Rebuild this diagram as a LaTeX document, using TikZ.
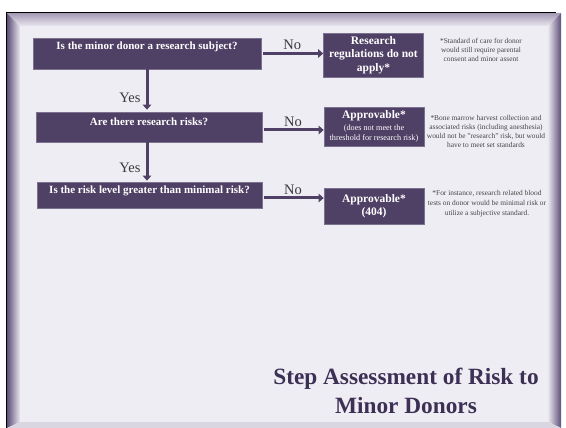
\documentclass[tikz,border=0pt]{standalone}
\usepackage{fontspec}
\setmainfont{Liberation Serif}
\usetikzlibrary{arrows.meta}
\definecolor{boxpurple}{HTML}{4F4065}
\definecolor{boxedge}{HTML}{7D7190}
\definecolor{panel}{HTML}{EFEDF4}
\definecolor{titlepurple}{HTML}{3D3055}
\definecolor{bevdark}{HTML}{5E4F78}
\definecolor{bevtop}{HTML}{A49AB5}
\definecolor{bevlight}{HTML}{E9E6EF}
\definecolor{bevbot}{HTML}{D9D5E1}
\definecolor{notegray}{HTML}{444444}
\definecolor{lblgray}{HTML}{3A3A3A}
\newcommand{\subnote}{\mdseries\fontsize{8.2}{10}\selectfont}
\begin{document}
\begin{tikzpicture}[x=1pt,y=-1pt,
  qbox/.style={fill=boxpurple, draw=boxedge, line width=0.7pt, inner sep=0pt},
  qtext/.style={text=white, inner sep=0pt, align=center,
    font=\bfseries\fontsize{11}{13}\selectfont},
  abox/.style={fill=boxpurple, draw=boxedge, line width=0.7pt, text=white,
    inner sep=0pt, align=center, font=\bfseries\fontsize{11.5}{13.5}\selectfont},
  note/.style={text=notegray, align=center, inner sep=0pt,
    font=\fontsize{7.4}{9}\selectfont},
  flow/.style={draw=boxpurple, line width=3pt,
    -{Triangle[length=5pt,width=8.5pt]}},
  lbl/.style={text=lblgray, inner sep=1pt, font=\fontsize{14.5}{16}\selectfont}]
\useasboundingbox (0,0) rectangle (566,428);
\fill[white] (0,0) rectangle (566,428);

% bevelled slide frame
\shade[left color=bevdark, right color=bevlight] (7,13) -- (20,26) -- (20,422) -- (7,428) -- cycle;
\shade[top color=bevtop, bottom color=bevlight] (7,13) -- (561,13) -- (548,26) -- (20,26) -- cycle;
\shade[left color=bevlight, right color=bevdark] (548,26) -- (561,13) -- (561,428) -- (548,422) -- cycle;
\fill[bevbot] (20,422) -- (548,422) -- (561,428) -- (7,428) -- cycle;
\fill[panel] (20,26) rectangle (548,422);
\draw[line width=1.6pt, black] (6.3,428) -- (6.3,12.5) -- (556,12.5);

% decision boxes
\node[qbox, minimum width=228pt, minimum height=31pt] (q1) at (147,53.5) {};
\node[qtext] (q1t) at ([yshift=-9pt]q1.north) {Is the minor donor a research subject?};
\node[qbox, minimum width=226pt, minimum height=30pt] (q2) at (149,127) {};
\node[qtext] (q2t) at ([yshift=-10pt]q2.north) {Are there research risks?};
\node[qbox, minimum width=225pt, minimum height=26pt] (q3) at (149.5,195) {};
\node[qtext] (q3t) at ([yshift=-9pt]q3.north) {Is the risk level greater than minimal risk?};

% outcome boxes
\node[abox, minimum width=100pt, minimum height=44pt] (r1) at (373.5,55)
  {Research\\regulations do not\\apply*};
\node[abox, minimum width=100pt, minimum height=39pt] (r2) at (374,126.5)
  {Approvable*\\[-2pt]{\subnote (does not meet the}\\[-3pt]{\subnote threshold for research risk)}};
\node[abox, minimum width=100pt, minimum height=36pt] (r3) at (374,206)
  {Approvable*\\(404)};

% footnotes
\node[note] (n1) at (481,50) {*Standard of care for donor\\would still require parental\\consent and minor assent};
\node[note] (n2) at (486,131) {*Bone marrow harvest collection and\\associated risks (including anesthesia)\\would not be "research" risk, but would\\have to meet set standards};
\node[note, font=\fontsize{7.4}{10}\selectfont] (n3) at (487,204) {*For instance, research related blood\\tests on donor would be minimal risk or\\utilize a subjective standard.};

% connectors
\coordinate (vx) at (147,0);
\draw[flow, shorten <=2pt] (q1.east) -- (q1.east -| r1.west)
  node[lbl, midway, above, yshift=1pt] (no1) {No};
\draw[flow, shorten <=2pt] ([yshift=-3pt]q2.east) -- ([yshift=-3pt]q2.east -| r2.west)
  node[lbl, midway, above, yshift=1pt] (no2) {No};
\draw[flow, shorten <=2pt] ([yshift=-3pt]q3.east) -- ([yshift=-3pt]q3.east -| r3.west)
  node[lbl, midway, above, yshift=1pt] (no3) {No};
\draw[flow] (q1.south -| vx) -- ([yshift=2pt]q2.north -| vx)
  node[lbl, pos=0.71, anchor=east, xshift=-4pt] (yes1) {Yes};
\draw[flow] (q2.south -| vx) -- ([yshift=1pt]q3.north -| vx)
  node[lbl, pos=0.66, anchor=east, xshift=-4pt] (yes2) {Yes};

% title
\node[text=titlepurple, align=center, font=\bfseries\fontsize{23.3}{28.5}\selectfont] (title)
  at (406,391) {Step Assessment of Risk to\\Minor Donors};
\end{tikzpicture}
\end{document}
